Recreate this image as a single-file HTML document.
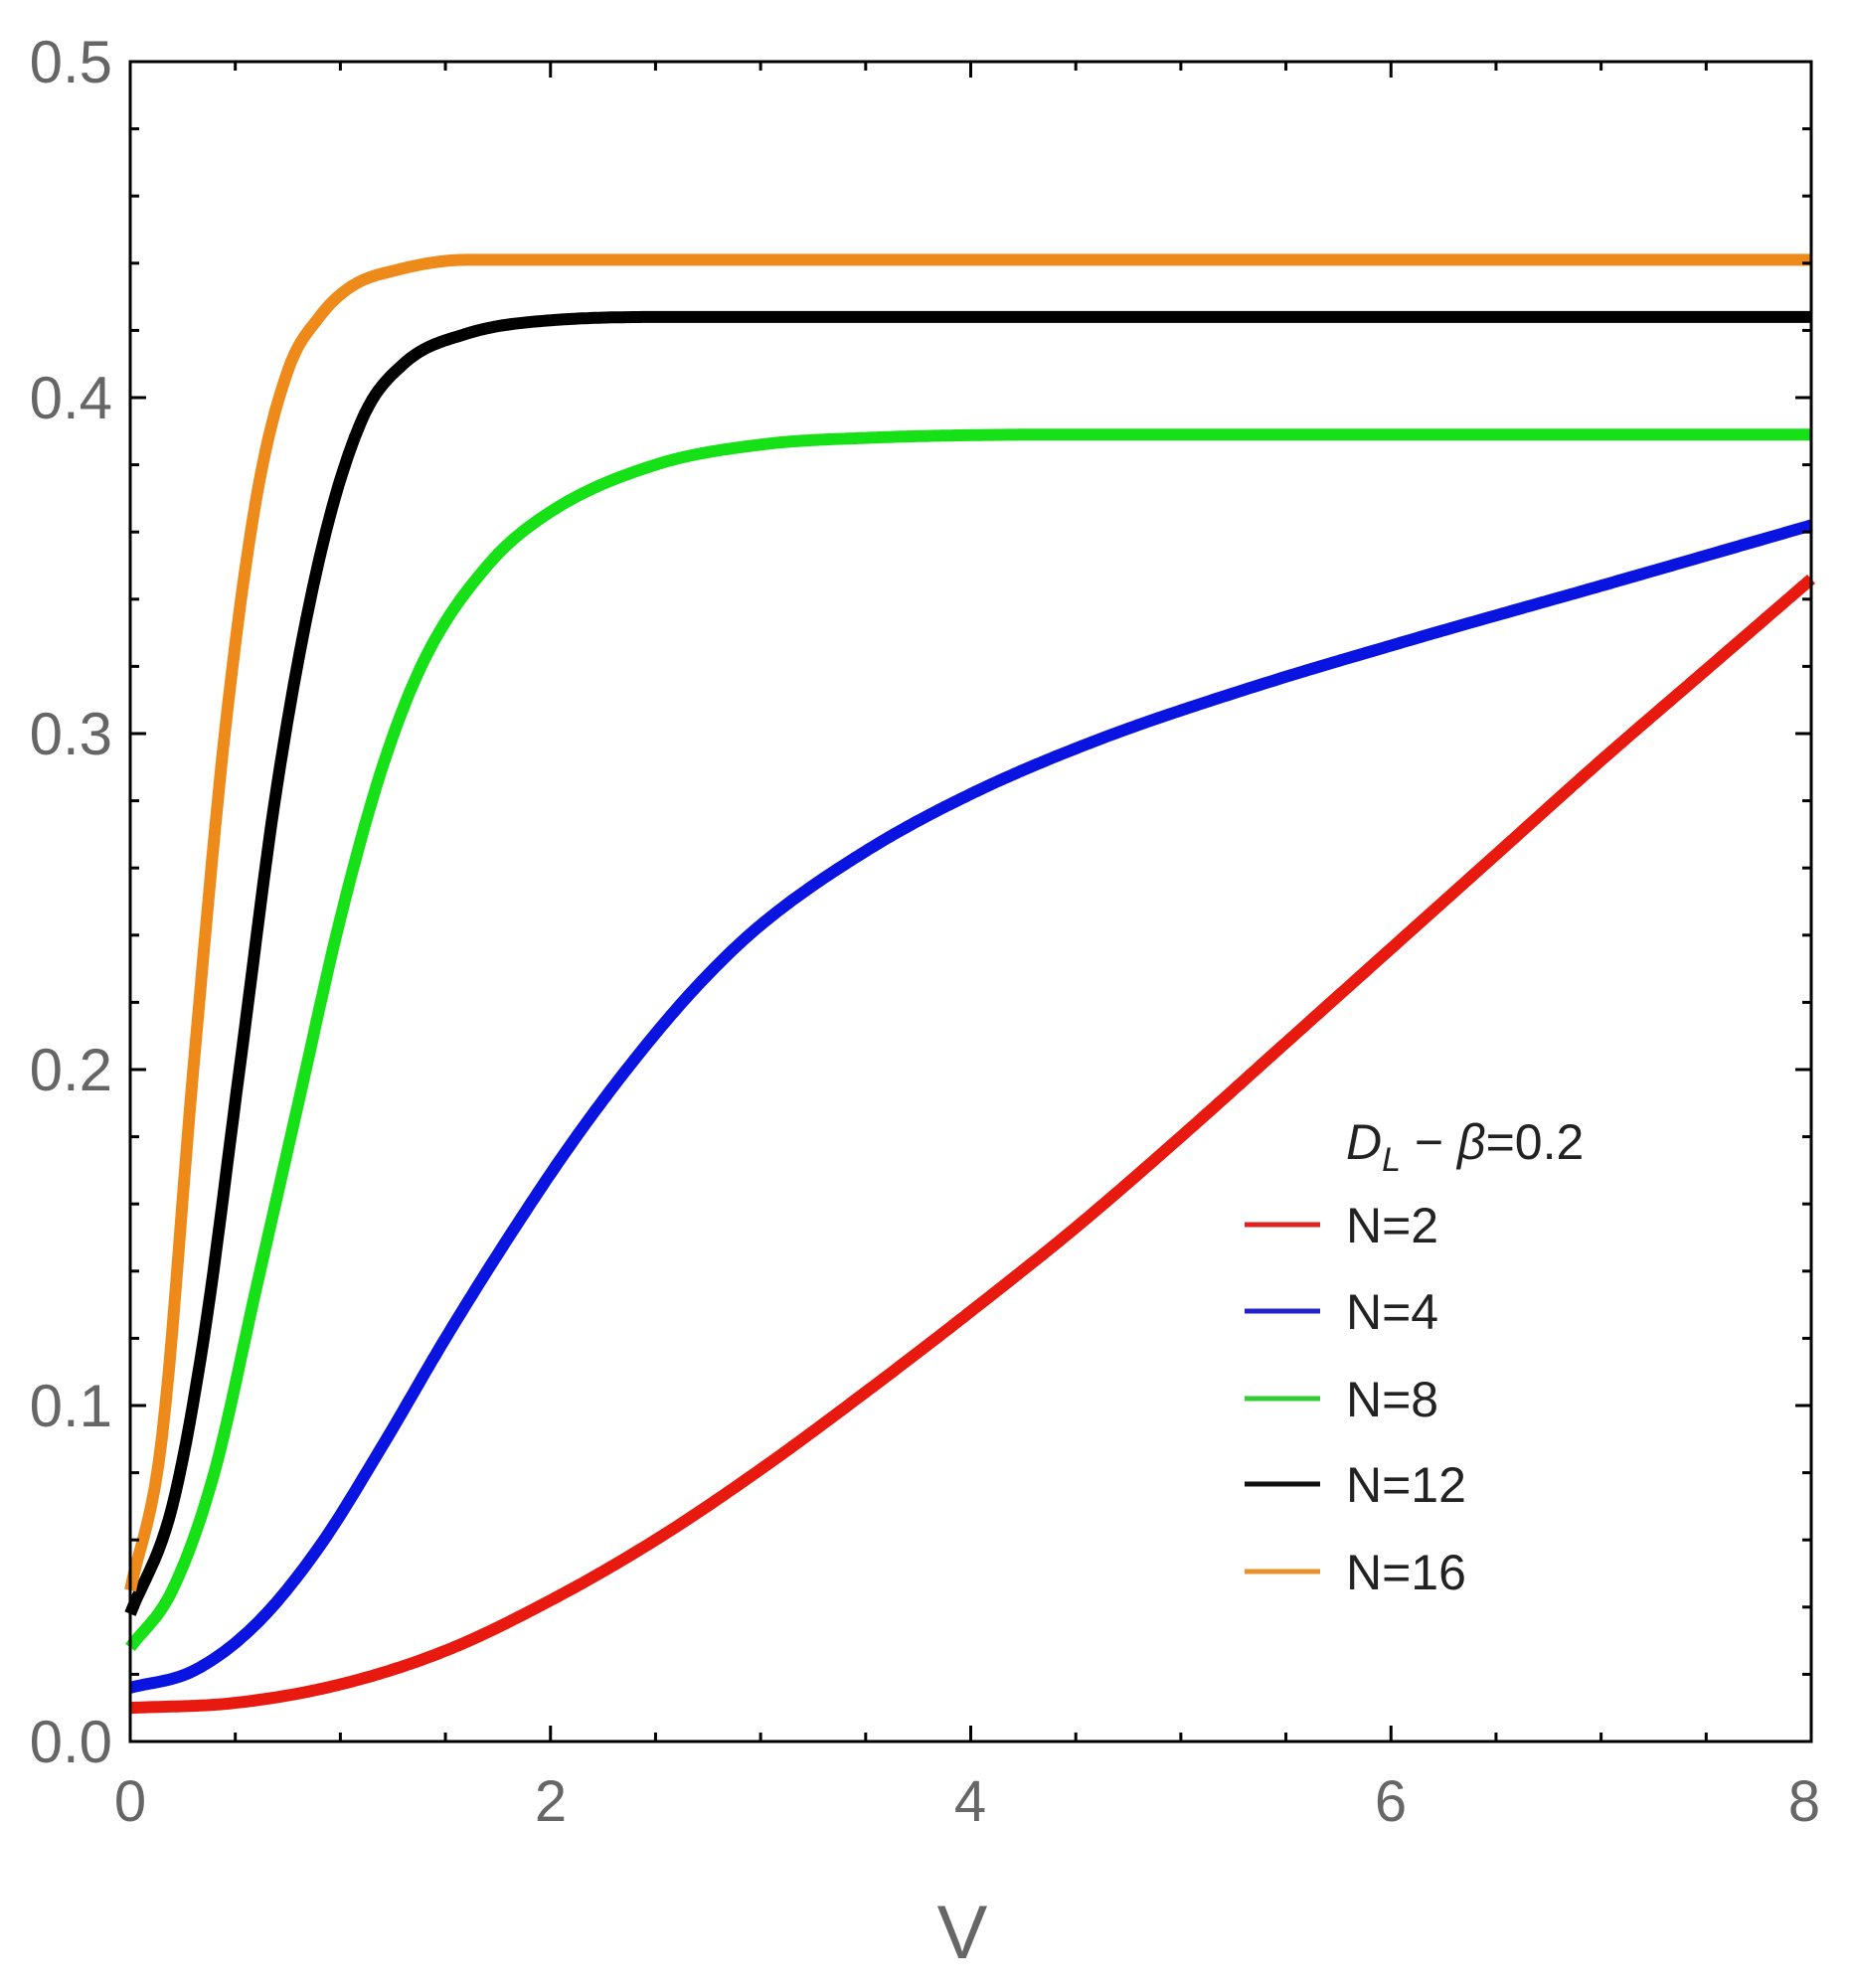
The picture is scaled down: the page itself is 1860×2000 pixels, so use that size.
<!DOCTYPE html>
<html><head><meta charset="utf-8"><style>
html,body{margin:0;padding:0;background:#fff;}
svg{display:block;}
text{font-family:"Liberation Sans",sans-serif;}
</style></head><body>
<svg id="s" width="1860" height="2000" viewBox="0 0 1860 2000" xmlns="http://www.w3.org/2000/svg">
<g id="curves"></g>
<rect x="131" y="62" width="1691" height="1690" fill="none" stroke="#000" stroke-width="3"/>
<g id="ticks" stroke="#000" stroke-width="3"></g>
<g fill="#666" font-size="60" text-anchor="end">
<text x="113" y="83">0.5</text>
<text x="113" y="421">0.4</text>
<text x="113" y="759">0.3</text>
<text x="113" y="1097">0.2</text>
<text x="113" y="1435">0.1</text>
<text x="113" y="1773">0.0</text>
</g>
<g fill="#666" font-size="58" text-anchor="middle">
<text x="131" y="1832">0</text>
<text x="554" y="1832">2</text>
<text x="976" y="1832">4</text>
<text x="1399" y="1832">6</text>
<text x="1815" y="1832">8</text>
</g>
<text x="968" y="1970" fill="#666" font-size="76" text-anchor="middle">V</text>
<g font-size="50" fill="#222" transform="translate(8,6)">
<text x="1346" y="1160" font-style="italic">D<tspan font-size="34" dy="12">L</tspan><tspan dy="-12" font-style="normal"> − </tspan>β<tspan font-style="normal">=0.2</tspan></text>
<line x1="1244" y1="1226" x2="1320" y2="1226" stroke="#d22" stroke-width="5"/>
<text x="1346" y="1244">N=2</text>
<line x1="1244" y1="1313" x2="1320" y2="1313" stroke="#22c" stroke-width="5"/>
<text x="1346" y="1331">N=4</text>
<line x1="1244" y1="1401" x2="1320" y2="1401" stroke="#3c3" stroke-width="5"/>
<text x="1346" y="1419">N=8</text>
<line x1="1244" y1="1487" x2="1320" y2="1487" stroke="#111" stroke-width="5"/>
<text x="1346" y="1505">N=12</text>
<line x1="1244" y1="1575" x2="1320" y2="1575" stroke="#e8922e" stroke-width="5"/>
<text x="1346" y="1593">N=16</text>
</g>
</svg>
<script>
(function(){
var X0=131,XS=(1822-131)/8,Y0=1752,YS=3380;
function px(v){return X0+v*XS;} function py(v){return Y0-v*YS;}
var data=[
["#e8190f",[[0,0.010],[0.5,0.0115],[1,0.017],[1.5,0.027],[2,0.042],[2.5,0.060],[3,0.081],[3.5,0.104],[4,0.128],[4.5,0.153],[5,0.18],[5.5,0.208],[6,0.236],[6.5,0.264],[7,0.292],[7.5,0.319],[8,0.346]]],
["#0a14e0",[[0,0.016],[0.3,0.021],[0.6,0.035],[0.9,0.058],[1.2,0.088],[1.5,0.12],[1.8,0.15],[2.1,0.178],[2.4,0.203],[2.7,0.225],[3,0.243],[3.5,0.265],[4,0.282],[4.6,0.298],[5.3,0.313],[6.1,0.328],[7,0.344],[8,0.362]]],
["#16e016",[[0,0.028],[0.2,0.045],[0.4,0.08],[0.6,0.135],[0.8,0.19],[1.0,0.245],[1.2,0.29],[1.4,0.322],[1.7,0.35],[2.0,0.366],[2.5,0.38],[3,0.386],[3.5,0.388],[4.5,0.389],[8,0.389]]],
["#000000",[[0,0.038],[0.2,0.07],[0.35,0.12],[0.52,0.2],[0.7,0.285],[0.9,0.352],[1.1,0.393],[1.3,0.41],[1.6,0.419],[2,0.423],[2.6,0.424],[8,0.424]]],
["#ee8a1a",[[0,0.045],[0.15,0.09],[0.3,0.2],[0.45,0.3],[0.6,0.37],[0.75,0.408],[0.9,0.424],[1.05,0.433],[1.27,0.438],[1.6,0.441],[2,0.441],[8,0.441]]]
];
function mono(pts){
 var n=pts.length,xs=pts.map(p=>p[0]),ys=pts.map(p=>p[1]),d=[],m=[];
 for(var i=0;i<n-1;i++)d.push((ys[i+1]-ys[i])/(xs[i+1]-xs[i]));
 m[0]=d[0];m[n-1]=d[n-2];
 for(var i=1;i<n-1;i++){m[i]=(d[i-1]*d[i]<=0)?0:(d[i-1]+d[i])/2;}
 for(var i=0;i<n-1;i++){if(d[i]==0){m[i]=0;m[i+1]=0;continue;}
  var a=m[i]/d[i],b=m[i+1]/d[i],s=a*a+b*b;if(s>9){var t=3/Math.sqrt(s);m[i]=t*a*d[i];m[i+1]=t*b*d[i];}}
 var out=[];
 for(var i=0;i<n-1;i++){var h=xs[i+1]-xs[i],N=Math.max(4,Math.ceil(h*60));
  for(var k=0;k<N;k++){var t=k/N,t2=t*t,t3=t2*t;
   var y=(2*t3-3*t2+1)*ys[i]+(t3-2*t2+t)*h*m[i]+(-2*t3+3*t2)*ys[i+1]+(t3-t2)*h*m[i+1];
   out.push([xs[i]+t*h,y]);}}
 out.push([xs[n-1],ys[n-1]]);return out;
}
var g=document.getElementById('curves'),ns="http://www.w3.org/2000/svg";
data.forEach(function(d){
 var p=mono(d[1]);
 var s=p.map(function(q,i){return (i?"L":"M")+px(q[0]).toFixed(1)+","+py(q[1]).toFixed(1);}).join("");
 var el=document.createElementNS(ns,"path");
 el.setAttribute("d",s);el.setAttribute("fill","none");el.setAttribute("stroke",d[0]);
 el.setAttribute("stroke-width","12");el.setAttribute("stroke-linejoin","round");
 g.appendChild(el);
});
var t=document.getElementById('ticks'),h="";
for(var i=0;i<=25;i++){var y=py(i*0.02),L=(i%5==0)?16:9;
 h+='<line x1="131" y1="'+y+'" x2="'+(131+L)+'" y2="'+y+'"/><line x1="1822" y1="'+y+'" x2="'+(1822-L)+'" y2="'+y+'"/>';}
for(var i=0;i<=16;i++){var x=px(i*0.5),L=(i%4==0)?16:9;
 h+='<line x1="'+x+'" y1="1752" x2="'+x+'" y2="'+(1752-L)+'"/><line x1="'+x+'" y1="62" x2="'+x+'" y2="'+(62+L)+'"/>';}
t.innerHTML=h;
})();
</script>
</body></html>
